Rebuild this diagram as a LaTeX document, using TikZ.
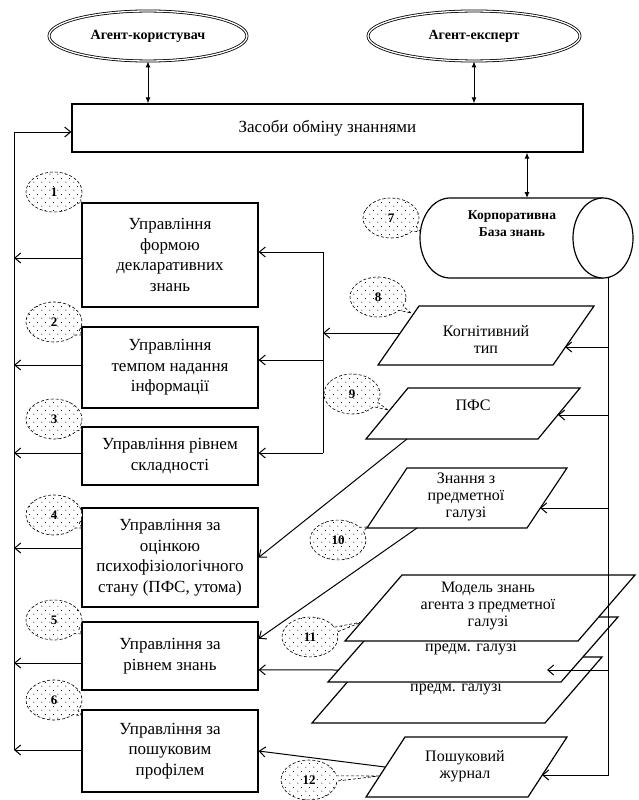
\documentclass[tikz,border=0pt]{standalone}
\usepackage{fontspec}
\setmainfont{Liberation Serif}
\usetikzlibrary{calc,shapes.geometric,shapes.callouts,arrows.meta,patterns.meta}

% sparse dot fill for the numbered callouts
\tikzdeclarepattern{
  name=sparsedots,
  type=uncolored,
  bounding box={(0pt,0pt) and (8pt,8pt)},
  tile size={(8pt,8pt)},
  code={
    \pgfpathcircle{\pgfpoint{2pt}{2pt}}{0.6pt}
    \pgfpathcircle{\pgfpoint{6pt}{6pt}}{0.6pt}
    \pgfusepath{fill}
  }
}

\tikzset{
  ctrl/.style={draw, line width=1.2pt, minimum width=176pt, align=center,
    font=\fontsize{17}{20.5}\selectfont, inner sep=2pt},
  agent/.style={ellipse, draw, double, double distance=1.3pt, line width=0.8pt,
    font=\fontsize{14}{16}\selectfont\bfseries},
  bubble/.style={ellipse callout, draw, densely dashed, line width=0.6pt,
    preaction={fill=white}, pattern=sparsedots, minimum width=56pt,
    minimum height=40pt, font=\fontsize{13}{15}\selectfont\bfseries, inner sep=0pt},
  shp/.style={line width=1.2pt, fill=white},
  conn/.style={line width=1pt},
  arr/.style={conn, -{Straight Barb[length=6pt,width=10pt]}},
  dbl/.style={conn, {Latex[length=6pt,width=5pt]}-{Latex[length=6pt,width=5pt]}},
  ptext/.style={align=center, font=\fontsize{16}{17}\selectfont, inner sep=0pt},
}

\begin{document}
\begin{tikzpicture}[x=1pt,y=-1pt]
\useasboundingbox (0,0) rectangle (639,800);

% agents and the exchange layer
\node[agent, minimum width=198pt, minimum height=50pt] (user) at (148,36) {Агент-користувач};
\node[agent, minimum width=212pt, minimum height=50pt] (expert) at (474,36) {Агент-експерт};
\node[draw, line width=1.2pt, minimum width=511pt, minimum height=48pt,
  font=\fontsize{17}{20}\selectfont] (xchg) at (327.5,128) {Засоби обміну знаннями};
\draw[dbl] (user.south) -- (user.south |- xchg.north);
\draw[dbl] (expert.south) -- (expert.south |- xchg.north);

% corporate knowledge base (horizontal cylinder)
\draw[shp] (603,198) -- (450,198) arc[start angle=270, end angle=90, x radius=30, y radius=40] -- (603,278);
\draw[shp] (603,238) ellipse [x radius=30, y radius=40];
\node[font=\fontsize{13.5}{17}\selectfont\bfseries, align=center] (kb) at (512,224) {Корпоративна\\База знань};
\coordinate (kbtop) at (527,198);
\coordinate (kbbot) at (608,277);
\draw[dbl] (xchg.south -| kbtop) -- (kbtop);

% control blocks
\node[ctrl, minimum height=104pt] (b1) at (170,255) {Управління\\формою\\декларативних\\знань};
\node[ctrl, minimum height=81pt] (b2) at (170,367.5) {Управління\\темпом надання\\інформації};
\node[ctrl, minimum height=58pt] (b3) at (170,456) {Управління рівнем\\складності};
\node[ctrl, minimum height=99pt] (b4) at (170,557.5) {Управління за\\оцінкою\\психофізіологічного\\стану (ПФС, утома)};
\node[ctrl, minimum height=68pt] (b5) at (170,656) {Управління за\\рівнем знань};
\node[ctrl, minimum height=82pt] (b6) at (170,751) {Управління за\\пошуковим\\профілем};

% data stores
\draw[shp] (378,365) -- (553,365) -- (594,306) -- (419,306) -- cycle;
\node[ptext] (kog) at (486,340) {Когнітивний\\тип};
\draw[shp] (366,439) -- (538,439) -- (580,388) -- (408,388) -- cycle;
\node[ptext] (pfs) at (473,405) {ПФС};
\draw[shp] (367,528) -- (527,528) -- (567,468) -- (407,468) -- cycle;
\node[ptext] (zn) at (466,497) {Знання з\\предметної\\галузі};
% stacked knowledge models
\draw[shp] (312,723) -- (545,723) -- (602,657) -- (369,657) -- cycle;
\node[ptext] (mod3) at (456,688) {предм. галузі};
\draw[shp] (328,682) -- (561,682) -- (618,617) -- (385,617) -- cycle;
\node[ptext] (mod2) at (471,648) {предм. галузі};
\draw[shp] (345,641) -- (578,641) -- (635,575) -- (402,575) -- cycle;
\node[ptext] (mod1) at (488,606) {Модель знань\\агента з предметної\\галузі};
\draw[shp] (366,797) -- (528,797) -- (567,737) -- (405,737) -- cycle;
\node[ptext] (posh) at (465,766) {Пошуковий\\журнал};

% connection points on the store outlines
\coordinate (kogW) at (400,333);
\coordinate (kogE) at (565,347);
\coordinate (pfsS) at (407,439);
\coordinate (pfsE) at (558,415);
\coordinate (znS) at (417,528);
\coordinate (znE) at (540,508);
\coordinate (modE) at (547,670);
\coordinate (modW) at (338,670);
\coordinate (poshW) at (385,767);
\coordinate (poshE) at (542,775);

% distribution from the knowledge base
\coordinate (rvEnd) at (608,775);
\draw[arr] (kbbot) -- (rvEnd) -- (poshE);
\draw[arr] (kogE -| kbbot) -- (kogE);
\draw[arr] (pfsE -| kbbot) -- (pfsE);
\draw[arr] (znE -| kbbot) -- (znE);
\draw[arr] (modE -| kbbot) -- (modE);

% cognitive type feeds blocks 1-3
\coordinate (bus1) at (323,252);
\coordinate (bus2) at (323,360);
\coordinate (bus3) at (323,453);
\draw[arr] (kogW) -- (kogW -| bus1);
\draw[conn] (bus1) -- (bus3);
\draw[arr] (bus1) -- (bus1 -| b1.east);
\draw[arr] (bus2) -- (bus2 -| b2.east);
\draw[arr] (bus3) -- (bus3 -| b3.east);

% other inputs of the control blocks
\draw[arr] (pfsS) -- (b4.east);
\draw[arr] (znS) -- ($(b5.north east)!0.25!(b5.south east)$);
\draw[arr] (modW) -- ($(b5.north east)!0.7!(b5.south east)$);
\draw[arr] (poshW) -- (b6.east);

% feedback to the exchange layer
\coordinate (fbTop) at (14,132);
\coordinate (fbBot) at (14,750);
\draw[arr] (fbBot) -- (fbTop) -- (fbTop -| xchg.west);
\coordinate (l1) at (14,258);
\coordinate (l2) at (14,365);
\coordinate (l3) at (14,453);
\coordinate (l4) at (14,548);
\coordinate (l5) at (14,663);
\draw[arr] (b1.west |- l1) -- (l1);
\draw[arr] (b2.west |- l2) -- (l2);
\draw[arr] (b3.west |- l3) -- (l3);
\draw[arr] (b4.west |- l4) -- (l4);
\draw[arr] (b5.west |- l5) -- (l5);
\draw[arr] (b6.west |- fbBot) -- (fbBot);

% numbered callouts
\node[bubble, callout absolute pointer={(b1.north west)}] (c1) at (54,192) {1};
\node[bubble, callout absolute pointer={(82,335)}] (c2) at (54,322) {2};
\node[bubble, callout absolute pointer={(82,430)}] (c3) at (54,419) {3};
\node[bubble, callout absolute pointer={(82,528)}] (c4) at (54,515) {4};
\node[bubble, callout absolute pointer={(82,634)}] (c5) at (54,620) {5};
\node[bubble, callout absolute pointer={(82,716)}] (c6) at (54,700) {6};
\node[bubble, callout absolute pointer={(421,232)}] (c7) at (391,218) {7};
\node[bubble, callout absolute pointer={(411,313)}] (c8) at (378,297) {8};
\node[bubble, callout absolute pointer={(388,410)}] (c9) at (352,394) {9};
\node[bubble, callout absolute pointer={(367,527)}] (c10) at (338,540) {10};
\node[bubble, callout absolute pointer={(362,622)}] (c11) at (310,637) {11};
\node[bubble, callout absolute pointer={(379,776)}] (c12) at (309,780) {12};
\end{tikzpicture}
\end{document}
